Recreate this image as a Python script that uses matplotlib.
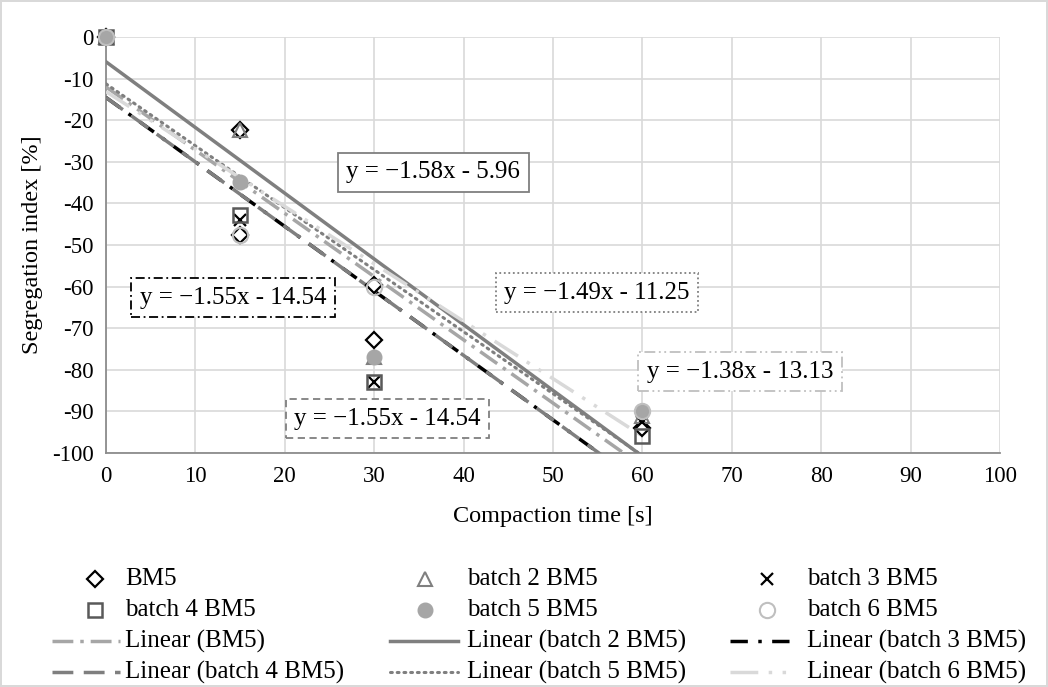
import numpy as np
import matplotlib.pyplot as plt
from matplotlib.lines import Line2D

plt.rcParams['font.family'] = ['Liberation Serif', 'DejaVu Serif']
plt.rcParams['axes.unicode_minus'] = False

x_bm5 = [0, 15, 15, 30, 30, 60]
y_bm5 = [0, -22.4, -47.6, -59.6, -72.8, -94.0]
x_b = [0, 15, 30, 60]
y_b2 = [0, -22.4, -77.0, -91.0]
y_b3 = [0, -44.0, -83.0, -92.5]
y_b4 = [0, -42.8, -83.0, -96.0]
y_b5 = [0, -34.9, -77.0, -90.0]
y_b6 = [0, -47.6, -60.0, -90.0]

# trend lines: slope, intercept (BM5 not printed, estimated)
slopes = [-1.52, -1.58, -1.55, -1.55, -1.49, -1.38]
intercepts = [-12.0, -5.96, -14.54, -14.54, -11.25, -13.13]
fit_x = np.array([0, 60])

names = ['BM5', 'batch 2 BM5', 'batch 3 BM5', 'batch 4 BM5', 'batch 5 BM5', 'batch 6 BM5']

eq_labels = ['y = \u22121.58x - 5.96', 'y = \u22121.55x - 14.54', 'y = \u22121.49x - 11.25',
             'y = \u22121.38x - 13.13', 'y = \u22121.55x - 14.54']
eq_pos = [(36.6, -32.5), (14.2, -62.7), (54.9, -61.5), (70.9, -80.5), (31.5, -91.8)]

W, H = 1048, 687
fig = plt.figure(figsize=(W / 100, H / 100), dpi=100)
ax = fig.add_axes([106 / W, 1 - 453 / H, 894 / W, 416 / H])

line_styles = [
    dict(color='#a6a6a6', lw=2.5, ls=(0, (6, 2, 1, 2))),
    dict(color='#7f7f7f', lw=2.5, ls='-'),
    dict(color='#000000', lw=2.5, ls=(0, (5, 3, 1, 3))),
    dict(color='#7f7f7f', lw=2.5, ls=(0, (6, 3))),
    dict(color='#7f7f7f', lw=2.2, ls=(0, (0.6, 1.6)), dash_capstyle='round'),
    dict(color='#d9d9d9', lw=2.5, ls=(0, (8, 3, 1, 3, 1, 3))),
]
for s, b, st in zip(slopes, intercepts, line_styles):
    ax.plot(fit_x, s * fit_x + b, zorder=3, **st)

marker_styles = [
    dict(marker='D', ms=8.5, mfc='white', mec='black', mew=1.6),
    dict(marker='^', ms=10, mfc='none', mec='#7f7f7f', mew=1.5),
    dict(marker='x', ms=9, mfc='none', mec='black', mew=1.6),
    dict(marker='s', ms=9.5, mfc='none', mec='#595959', mew=1.8),
    dict(marker='o', ms=10.5, mfc='#a6a6a6', mec='#a6a6a6', mew=1),
    dict(marker='o', ms=11, mfc='none', mec='#bfbfbf', mew=1.5),
]
series_x = [x_bm5, x_b, x_b, x_b, x_b, x_b]
series_y = [y_bm5, y_b2, y_b3, y_b4, y_b5, y_b6]
for i, (xs, ys, ms) in enumerate(zip(series_x, series_y, marker_styles)):
    ax.plot(xs, ys, ls='none', clip_on=False, zorder=5 + i, **ms)

box_styles = [
    dict(ec='#7f7f7f', ls='-'),
    dict(ec='#000000', ls=(0, (5, 2, 1, 2))),
    dict(ec='#7f7f7f', ls=(0, (1, 1.5))),
    dict(ec='#bfbfbf', ls=(0, (6, 2, 1, 2, 1, 2))),
    dict(ec='#7f7f7f', ls=(0, (4, 2.5))),
]
for txt, (px, py), bs in zip(eq_labels, eq_pos, box_styles):
    ax.text(px, py, txt, ha='center', va='center', fontsize=18, zorder=12,
            bbox=dict(boxstyle='square,pad=0.34', fc='white', lw=1.3, **bs))

ax.set_xlim(0, 100)
ax.set_ylim(-100, 0)
ax.set_xticks(np.arange(0, 101, 10))
ax.set_yticks(np.arange(-100, 1, 10))
ax.set_yticklabels([str(v) for v in range(-100, 1, 10)])
ax.tick_params(length=0, labelsize=16.5, pad=9)
ax.grid(True, color='#d9d9d9', lw=1.2)
ax.set_axisbelow(True)
for side in ['top', 'right']:
    ax.spines[side].set_visible(False)
for side in ['left', 'bottom']:
    ax.spines[side].set_color('#8c8c8c')
    ax.spines[side].set_linewidth(1.3)
ax.set_xlabel('Compaction time [s]', fontsize=17.5, labelpad=14)
ax.set_ylabel('Segregation index [%]', fontsize=17.5, labelpad=6)

# legend drawn by hand, Excel style: 3 columns, 4 rows
rows = [579, 610, 641, 672]
col_line = [(52, 120), (390, 458), (730, 790)]
col_mark = [95, 425, 767]
col_text = [125, 467, 807]
order = [[0, 3], [1, 4], [2, 5]]


def fx(p):
    return p / W


def fy(p):
    return 1 - p / H


for c, idx in enumerate(order):
    for r, i in enumerate(idx):
        y = rows[r]
        fig.add_artist(Line2D([fx(col_mark[c])], [fy(y)], ls='none',
                              transform=fig.transFigure, **marker_styles[i]))
        fig.text(fx(col_text[c]), fy(y), names[i], fontsize=18, va='center', ha='left')
        y2 = rows[r + 2]
        x0, x1 = col_line[c]
        fig.add_artist(Line2D([fx(x0), fx(x1)], [fy(y2), fy(y2)],
                              transform=fig.transFigure, **line_styles[i]))
        fig.text(fx(col_text[c]), fy(y2), 'Linear (' + names[i] + ')', fontsize=18,
                 va='center', ha='left')

fig.patch.set_edgecolor('#d9d9d9')
fig.patch.set_linewidth(1.5)
fig.savefig('out.png', dpi=100)
